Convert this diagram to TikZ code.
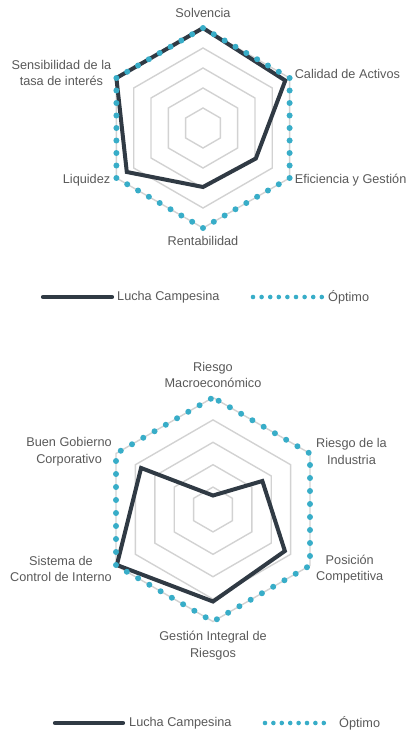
\documentclass[tikz,border=0pt]{standalone}
\usepackage{fontspec}
\setmainfont{Liberation Sans}
\usetikzlibrary{positioning}

\definecolor{lucha}{RGB}{48,58,68}
\definecolor{optimo}{RGB}{56,173,200}
\definecolor{txtgray}{RGB}{89,89,89}
\definecolor{gridgray}{RGB}{210,210,210}

\begin{document}
\begin{tikzpicture}[x=1pt, y=1pt,
    lbl/.style={text=txtgray, font=\fontsize{12.7}{16.5}\selectfont, inner sep=0pt, align=center},
    ring/.style={draw=gridgray, line width=1.4pt},
    serie/.style={draw=lucha, line width=4pt},
    optdots/.style={draw=optimo, line width=6pt, line cap=round, dash pattern=on 0pt off #1},
    optdots/.default=12.5pt]
    \useasboundingbox (0,0) rectangle (408,-731);

    % Radar {Solvencia, Calidad, Eficiencia, Rentabilidad, Liquidez, Sensibilidad}
    \begin{scope}[shift={(203,-128)}]
    \foreach \r in {20,40,60,80,100}
        \draw [ring] (90:\r) -- (30:\r) -- (-30:\r) -- (-90:\r) -- (210:\r) -- (150:\r) -- cycle;
    \coordinate (tOp1) at (90:100);
    \coordinate (tOp2) at (30:100);
    \coordinate (tOp3) at (-30:100);
    \coordinate (tOp4) at (-90:100);
    \coordinate (tOp5) at (210:100);
    \coordinate (tOp6) at (150:100);
    \coordinate (tLc1) at (90:100);
    \coordinate (tLc2) at (30:95);
    \coordinate (tLc3) at (-30:61);
    \coordinate (tLc4) at (-90:59);
    \coordinate (tLc5) at (210:88);
    \coordinate (tLc6) at (150:100);
    \end{scope}

    % Series
    \draw [serie] (tLc1) -- (tLc2) -- (tLc3) -- (tLc4) -- (tLc5) -- (tLc6) -- cycle;
    \draw [optdots] (tOp1) -- (tOp2) -- (tOp3) -- (tOp4) -- (tOp5) -- (tOp6) -- cycle;

    % Labels
    \node [lbl] (tSol) [above=10pt of tOp1] {Solvencia};
    \node [lbl, anchor=west] (tCal) at ([xshift=5pt, yshift=4pt]tOp2) {Calidad de Activos};
    \node [lbl, anchor=west] (tEfi) at ([xshift=5pt, yshift=-2pt]tOp3) {Eficiencia y Gestión};
    \node [lbl] (tRen) [below=8pt of tOp4] {Rentabilidad};
    \node [lbl, anchor=east] (tLiq) at ([xshift=-6pt, yshift=-2pt]tOp5) {Liquidez};
    \node [lbl, anchor=east] (tSen) at ([xshift=-5pt, yshift=5pt]tOp6) {Sensibilidad de la\\tasa de interés};

    % Legend
    \coordinate (tLgA) at (43,-297);
    \coordinate (tLgB) at (112,-297);
    \coordinate (tLgC) at (253,-297);
    \coordinate (tLgD) at (322,-297);
    \draw [serie, line width=4.2pt, line cap=round] (tLgA) -- (tLgB);
    \node [lbl, anchor=west] (tLgLucha) [right=5pt of tLgB] {Lucha Campesina};
    \draw [optdots=8.6pt, line width=4.6pt] (tLgC) -- (tLgD);
    \node [lbl, anchor=west] (tLgOpt) [right=6pt of tLgD] {Óptimo};

    % Radar {Macro, Industria, Posicion, Gestion, Control, Gobierno}
    \begin{scope}[shift={(213,-509.5)}]
    \foreach \r in {22.4,44.8,67.2,89.6,112}
        \draw [ring] (90:\r) -- (30:\r) -- (-30:\r) -- (-90:\r) -- (210:\r) -- (150:\r) -- cycle;
    \coordinate (bOp1) at (90:112);
    \coordinate (bOp2) at (30:112);
    \coordinate (bOp3) at (-30:112);
    \coordinate (bOp4) at (-90:112);
    \coordinate (bOp5) at (210:112);
    \coordinate (bOp6) at (150:112);
    \coordinate (bLc1) at (90:14);
    \coordinate (bLc2) at (30:57);
    \coordinate (bLc3) at (-30:83);
    \coordinate (bLc4) at (-90:92);
    \coordinate (bLc5) at (210:111);
    \coordinate (bLc6) at (150:83);
    \end{scope}

    % Series
    \draw [serie] (bLc1) -- (bLc2) -- (bLc3) -- (bLc4) -- (bLc5) -- (bLc6) -- cycle;
    \draw [optdots=13pt, dash phase=6.5pt] (bOp1) -- (bOp2) -- (bOp3) -- (bOp4) -- (bOp5) -- (bOp6) -- cycle;

    % Labels
    \node [lbl] (bMac) [above=9.5pt of bOp1] {Riesgo\\Macroeconómico};
    \node [lbl, anchor=west] (bInd) at ([xshift=6pt, yshift=2pt]bOp2) {Riesgo de la\\Industria};
    \node [lbl, anchor=west] (bPos) at ([xshift=6pt, yshift=-3.5pt]bOp3) {Posición\\Competitiva};
    \node [lbl] (bGes) [below=9.5pt of bOp4] {Gestión Integral de\\Riesgos};
    \node [lbl, anchor=east] (bCon) at ([xshift=-4pt, yshift=-3.5pt]bOp5) {Sistema de\\Control de Interno};
    \node [lbl, anchor=east] (bGob) at ([xshift=-4pt, yshift=2pt]bOp6) {Buen Gobierno\\Corporativo};

    % Legend
    \coordinate (bLgA) at (55,-723);
    \coordinate (bLgB) at (123,-723);
    \coordinate (bLgC) at (265,-723);
    \coordinate (bLgD) at (332,-723);
    \draw [serie, line width=4.2pt, line cap=round] (bLgA) -- (bLgB);
    \node [lbl, anchor=west] (bLgLucha) [right=6pt of bLgB] {Lucha Campesina};
    \draw [optdots=8.4pt, line width=4.6pt] (bLgC) -- (bLgD);
    \node [lbl, anchor=west] (bLgOpt) [right=7pt of bLgD] {Óptimo};

\end{tikzpicture}
\end{document}
